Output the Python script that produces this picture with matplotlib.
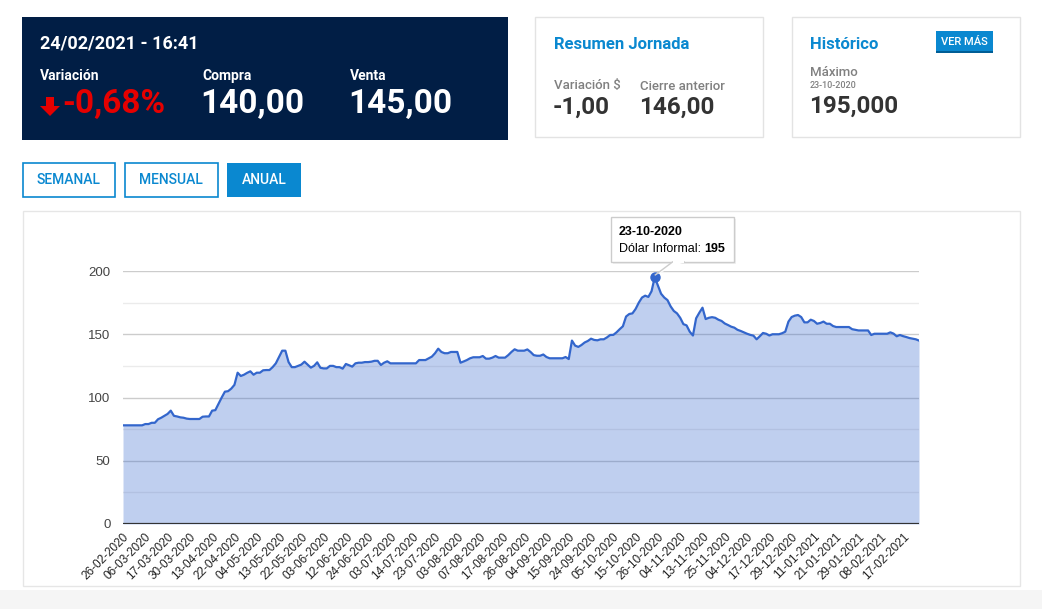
import matplotlib
matplotlib.use("Agg")
import matplotlib.pyplot as plt
import matplotlib.patches as patches
import numpy as np

W = 1042
H = 609

# informal dollar, one value per trading day
values = [
    78, 78, 78, 78, 78, 78, 78, 79, 79, 80,
    80, 82.8, 84, 85.5, 87, 89.6, 85.5, 85, 84.3, 84,
    83.3, 83, 83, 83, 83, 84.8, 85, 85, 89.6, 90,
    95, 100, 104.6, 105, 107, 110, 119.6, 117, 118, 119.5,
    120.7, 118, 119.6, 119.6, 121.5, 121.7, 121.7, 124, 127, 132,
    137, 137, 128, 124, 124, 125, 126, 128.3, 126, 123.6,
    125, 127.8, 123.5, 123, 123, 125, 125, 124, 124, 122.8,
    126.5, 125.5, 124.4, 127, 127.5, 127.5, 128, 128, 128.3, 129,
    129, 125.7, 127.5, 128.6, 127, 127, 127, 127, 127, 127,
    127, 127, 127, 129.6, 129.6, 129.6, 131, 132.3, 135, 138.6,
    136, 135, 135, 136, 136, 136, 127.5, 128.5, 129.6, 131,
    131.8, 131.8, 131.8, 132.8, 130.7, 130.7, 131.5, 132.8, 131.5, 131.5,
    131.5, 133.5, 136, 138.1, 137, 137, 137, 138, 136, 133.5,
    133, 133, 134, 132, 131, 131, 131, 131, 131, 132,
    130.4, 145, 141, 140, 141.5, 143.5, 144.7, 146.5, 145.5, 145.2,
    146, 146, 147.5, 149.4, 149.5, 151.5, 154, 156.3, 164, 166,
    166.5, 170, 175, 179, 180.5, 179.5, 184, 195, 188.5, 182,
    179, 177, 172, 168.4, 166.5, 163, 158, 157, 152, 149,
    162.6, 167, 171, 162, 163, 163.5, 163, 161.5, 160.5, 158.5,
    157.3, 156, 155.2, 153.5, 152.6, 151.5, 150.4, 149.5, 148.9, 146,
    148.4, 151, 150.4, 149, 150, 150, 150, 150.8, 152, 160,
    163.6, 164.7, 165.2, 163.6, 159.4, 159.4, 161.5, 160.5, 158.3, 158.9,
    160, 158.3, 158.3, 156.5, 155.7, 155.7, 155.7, 155.7, 155.7, 154,
    153.5, 153, 153, 153, 153, 149.4, 150.4, 150.4, 150.4, 150.4,
    150.4, 151.5, 150.5, 148.4, 149.4, 148.5, 147.8, 147, 146.5, 146,
    145,
]

tick_labels = [
    "26-02-2020", "06-03-2020", "17-03-2020", "30-03-2020", "13-04-2020", "22-04-2020",
    "04-05-2020", "13-05-2020", "22-05-2020", "03-06-2020", "12-06-2020", "24-06-2020",
    "03-07-2020", "14-07-2020", "23-07-2020", "03-08-2020", "07-08-2020", "17-08-2020",
    "26-08-2020", "04-09-2020", "15-09-2020", "24-09-2020", "05-10-2020", "15-10-2020",
    "26-10-2020", "04-11-2020", "13-11-2020", "25-11-2020", "04-12-2020", "17-12-2020",
    "29-12-2020", "11-01-2021", "21-01-2021", "29-01-2021", "08-02-2021", "17-02-2021",
]
tick_step = 7
y_ticks = [0, 50, 100, 150, 200]

stamp = "24/02/2021 - 16:41"
variacion = "-0,68%"
compra = "140,00"
venta = "145,00"
variacion_abs = "-1,00"
cierre_anterior = "146,00"
maximo_fecha = "23-10-2020"
maximo = "195,000"
series_name = "Dólar Informal"

NAVY = "#011e45"
BLUE = "#0a88d0"
RED = "#e60000"
LINE = "#3366cc"
UI_FONT = ["Roboto", "DejaVu Sans"]
CHART_FONT = ["Liberation Sans", "DejaVu Sans"]


def fx(x):
    return x / W


def fy(y):
    return 1 - y / H


def box(fig, x0, y0, x1, y1, face, edge=None, lw=1.0, z=1, alpha=1.0):
    r = patches.Rectangle((fx(x0), fy(y1)), (x1 - x0) / W, (y1 - y0) / H,
                          transform=fig.transFigure, facecolor=face,
                          edgecolor=edge if edge else "none", linewidth=lw,
                          zorder=z, alpha=alpha)
    fig.add_artist(r)
    return r


def label(fig, x, y, s, size, color, weight="normal", ha="left", family=UI_FONT, z=5):
    return fig.text(fx(x), fy(y), s, fontsize=size, color=color, fontweight=weight,
                    ha=ha, va="center", family=family, zorder=z)


fig = plt.figure(figsize=(W / 100, H / 100), dpi=100)
fig.patch.set_facecolor("white")

# bottom band of the page
box(fig, 0, 590, W, H, "#f5f5f5", z=0)

# --- dark quote panel ---
box(fig, 22, 17, 508, 140, NAVY)
label(fig, 40, 43.5, stamp, 13, "white", "bold")
label(fig, 40, 76, "Variación", 10, "white", "bold")
label(fig, 202, 76, "Compra", 10, "white", "bold")
label(fig, 350, 76, "Venta", 10, "white", "bold")
arrow = [(46, 97), (54, 97), (54, 106), (60, 106), (50, 116), (40, 106), (46, 106)]
fig.add_artist(patches.Polygon([(fx(a), fy(b)) for a, b in arrow], closed=True,
                               transform=fig.transFigure, facecolor=RED,
                               edgecolor="none", zorder=5))
label(fig, 62, 104, variacion, 24, RED, "bold")
label(fig, 200, 104, compra, 24, "white", "bold")
label(fig, 348, 104, venta, 24, "white", "bold")

# --- Resumen Jornada ---
box(fig, 535, 17, 763, 137, "white", "#e3e3e3", 1.0)
label(fig, 554, 44.5, "Resumen Jornada", 12, BLUE, "bold")
label(fig, 554, 86, "Variación $", 9.5, "#808080", "medium")
label(fig, 640, 86, "Cierre anterior", 9.5, "#808080", "medium")
label(fig, 553, 107, variacion_abs, 17.5, "#333333", "bold")
label(fig, 639, 107, cierre_anterior, 17.5, "#333333", "bold")

# --- Histórico ---
box(fig, 792, 17, 1020, 137, "white", "#e3e3e3", 1.0)
label(fig, 810, 44.5, "Histórico", 12, BLUE, "bold")
box(fig, 936, 31, 993, 53, BLUE, z=2)
box(fig, 936, 51, 993, 53, "#005e96", z=3)
label(fig, 964.5, 42, "VER MÁS", 8, "white", "medium", ha="center")
label(fig, 810, 72, "Máximo", 9.5, "#808080", "medium")
label(fig, 810, 85, maximo_fecha, 6.5, "#808080", "medium")
label(fig, 809, 106, maximo, 17.5, "#333333", "bold")

# --- period buttons ---
box(fig, 22.5, 163.5, 115, 197, "white", BLUE, 1.2)
label(fig, 68.75, 180.5, "SEMANAL", 10, BLUE, "medium", ha="center")
box(fig, 124.5, 163.5, 217.5, 197, "white", BLUE, 1.2)
label(fig, 171, 180.5, "MENSUAL", 10, BLUE, "medium", ha="center")
box(fig, 227, 163, 301, 197, BLUE)
label(fig, 264, 180.5, "ANUAL", 10, "white", "medium", ha="center")

# --- chart container ---
box(fig, 22.5, 210.5, 1020, 586, "white", "#e6e6e6", 1.0, z=0)

ax = fig.add_axes([fx(123), fy(524), (919 - 123) / W, (524 - 271) / H])
ax.set_facecolor("none")
x = np.arange(len(values))
ax.set_xlim(0, len(values) - 1)
ax.set_ylim(0, 200)

for g in range(25, 201, 25):
    ax.axhline(g, color="#cccccc" if g % 50 == 0 else "#ebebeb", lw=1.0, zorder=1)
ax.fill_between(x, values, 0, color=LINE, alpha=0.31, lw=0, zorder=2)
ax.plot(x, values, color=LINE, lw=1.6, zorder=3, solid_joinstyle="round")
ax.axhline(0, color="#333333", lw=1.6, zorder=4)

for s in ax.spines.values():
    s.set_visible(False)
ax.set_yticks(y_ticks)
ax.set_yticklabels([str(v) for v in y_ticks], family=CHART_FONT, fontsize=9.5, color="#444444")
ax.set_xticks(np.arange(len(tick_labels)) * tick_step)
ax.set_xticklabels(tick_labels, rotation=45, ha="right", rotation_mode="anchor",
                   family=CHART_FONT, fontsize=8.5, color="#222222")
ax.tick_params(axis="y", length=0, pad=9)
ax.tick_params(axis="x", length=0, pad=5)

# --- tooltip on the maximum ---
imax = int(np.argmax(values))
ax.plot([imax], [values[imax]], "o", ms=6.5, color=LINE, zorder=6, clip_on=False)
dx, dy = ax.transData.transform((imax, values[imax]))
px, py = dx, H - dy

box(fig, px - 42, py - 58, px + 81, py - 13, "#000000", z=6, alpha=0.06)
box(fig, px - 44, py - 60, px + 79, py - 15, "white", "#cccccc", 1.0, z=7)
tip = [(px, py - 2), (px + 18, py - 15.5), (px + 30, py - 15.5)]
fig.add_artist(patches.Polygon([(fx(a), fy(b)) for a, b in tip], closed=False,
                               transform=fig.transFigure, facecolor="white",
                               edgecolor="#cccccc", lw=1.0, zorder=8))
fig.add_artist(patches.Rectangle((fx(px + 18.5), fy(py - 14.5)), 11 / W, 2 / H,
                                 transform=fig.transFigure, facecolor="white",
                                 edgecolor="none", zorder=9))
label(fig, px - 36, py - 45, maximo_fecha, 9, "#000000", "bold", family=CHART_FONT, z=10)
t1 = label(fig, px - 36, py - 28, series_name + ": ", 9, "#000000", family=CHART_FONT, z=10)
renderer = fig.canvas.get_renderer()
bb = t1.get_window_extent(renderer=renderer)
label(fig, bb.x1, py - 28, str(int(values[imax])), 9, "#000000", "bold",
      family=CHART_FONT, z=10)

fig.savefig("out.png", dpi=100)
